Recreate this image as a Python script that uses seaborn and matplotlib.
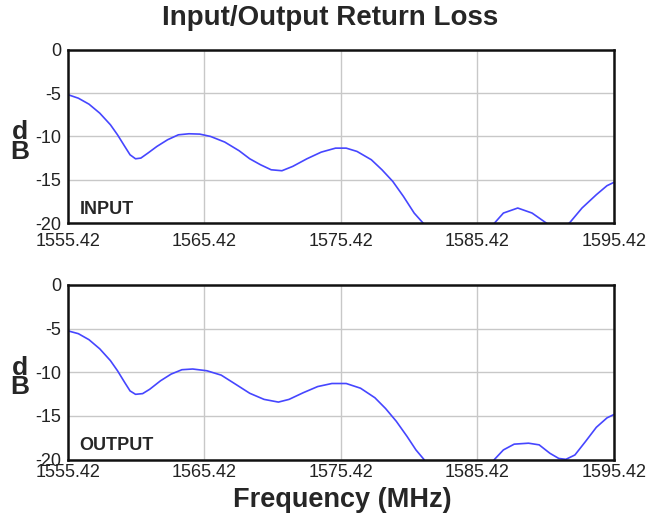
import numpy as np
import pandas as pd
import matplotlib
matplotlib.use('Agg')
import matplotlib.pyplot as plt
import seaborn as sns

# Frequency (MHz) / return loss (dB)
# (values under -20 dB are hidden by the axis in the reference, so they are rough guesses)
freq_in = [1555.45, 1556.18, 1556.96, 1557.75, 1558.53, 1559.05, 1559.58, 1559.97, 1560.37,
           1560.76, 1561.28, 1561.94, 1562.72, 1563.51, 1564.29, 1565.08, 1565.87, 1566.91,
           1567.96, 1568.74, 1569.53, 1570.31, 1571.10, 1571.89, 1572.93, 1573.98, 1575.03,
           1575.81, 1576.60, 1577.65, 1578.43, 1579.22, 1580.00, 1580.79, 1581.44, 1582.50,
           1584.00, 1585.60, 1586.68, 1587.33, 1588.38, 1589.43, 1590.47, 1591.30, 1592.17,
           1593.09, 1594.14, 1594.92, 1595.42]
loss_in = [-5.19, -5.58, -6.27, -7.31, -8.65, -9.81, -11.15, -12.12, -12.58,
           -12.50, -11.92, -11.15, -10.38, -9.81, -9.69, -9.73, -10.00, -10.65,
           -11.65, -12.58, -13.27, -13.85, -13.96, -13.46, -12.58, -11.81, -11.35,
           -11.35, -11.73, -12.69, -13.85, -15.19, -16.92, -18.85, -20.00, -22.50,
           -24.50, -22.50, -20.00, -18.85, -18.27, -18.85, -20.00, -20.90, -20.00,
           -18.27, -16.73, -15.69, -15.31]

freq_out = [1555.45, 1556.18, 1556.96, 1557.75, 1558.53, 1559.05, 1559.58, 1559.97, 1560.37,
            1560.89, 1561.41, 1562.20, 1562.98, 1563.77, 1564.56, 1565.60, 1566.65, 1567.70,
            1568.74, 1569.79, 1570.84, 1571.62, 1572.67, 1573.72, 1574.76, 1575.81, 1576.86,
            1577.91, 1578.69, 1579.48, 1580.27, 1580.92, 1581.50, 1582.50, 1584.00, 1585.60,
            1586.68, 1587.33, 1588.12, 1589.17, 1589.95, 1590.74, 1591.39, 1591.91, 1592.57,
            1593.35, 1594.14, 1594.92, 1595.42]
loss_out = [-5.27, -5.58, -6.27, -7.32, -8.67, -9.83, -11.18, -12.14, -12.53,
            -12.45, -11.95, -10.98, -10.21, -9.71, -9.63, -9.83, -10.33, -11.37,
            -12.41, -13.11, -13.42, -13.11, -12.34, -11.64, -11.29, -11.29, -11.83,
            -12.92, -14.15, -15.62, -17.36, -18.90, -19.98, -22.50, -24.50, -22.50,
            -19.98, -18.90, -18.24, -18.13, -18.32, -19.29, -19.88, -19.98, -19.48,
            -17.93, -16.31, -15.23, -14.85]

panel_names = ['INPUT', 'OUTPUT']
xticks = [1555.42, 1565.42, 1575.42, 1585.42, 1595.42]
xtick_labels = ['1555.42', '1565.42', '1575.42', '1585.42', '1595.42']
yticks = [0, -5, -10, -15, -20]

sns.set_style('white')
plt.rcParams['font.family'] = ['Liberation Sans', 'DejaVu Sans']
plt.rcParams['axes.unicode_minus'] = False

fig = plt.figure(figsize=(6.6, 5.23), dpi=100)
ax_top = fig.add_axes([0.103, 0.5736, 0.827, 0.331])
ax_bot = fig.add_axes([0.103, 0.1214, 0.827, 0.3337])

series = [(freq_in, loss_in), (freq_out, loss_out)]
xpads = [7, 3]
for ax, (f, l), name, xpad in zip([ax_top, ax_bot], series, panel_names, xpads):
    df = pd.DataFrame({'freq': f, 'loss': l})
    sns.lineplot(data=df, x='freq', y='loss', ax=ax, color='#4646ff', linewidth=1.2, sort=False)
    ax.set_xlim(1555.42, 1595.42)
    ax.set_ylim(-20, 0)
    ax.set_xticks(xticks)
    ax.set_xticklabels(xtick_labels)
    ax.set_yticks(yticks)
    ax.grid(True, color='#c8c8c8', linewidth=1)
    ax.set_axisbelow(True)
    ax.tick_params(length=0, labelsize=13, labelcolor='#222222')
    ax.tick_params(axis='x', pad=xpad)
    ax.tick_params(axis='y', pad=5)
    for s in ax.spines.values():
        s.set_visible(True)
        s.set_color('#111111')
        s.set_linewidth(1.8)
    ax.set_xlabel('')
    ax.set_ylabel('d\nB', fontsize=19, fontweight='bold', rotation=0,
                  linespacing=0.78, va='center', ha='center')
    ax.yaxis.set_label_coords(-0.088, 0.47)
    ax.text(0.021, 0.03, name, transform=ax.transAxes, fontsize=13,
            fontweight='bold', ha='left', va='bottom')

fig.suptitle('Input/Output Return Loss', fontsize=20, fontweight='bold', y=0.99)
fig.text(0.518, 0.044, 'Frequency (MHz)', fontsize=19.5, fontweight='bold', ha='center', va='center')

fig.savefig('out.png', dpi=100)
